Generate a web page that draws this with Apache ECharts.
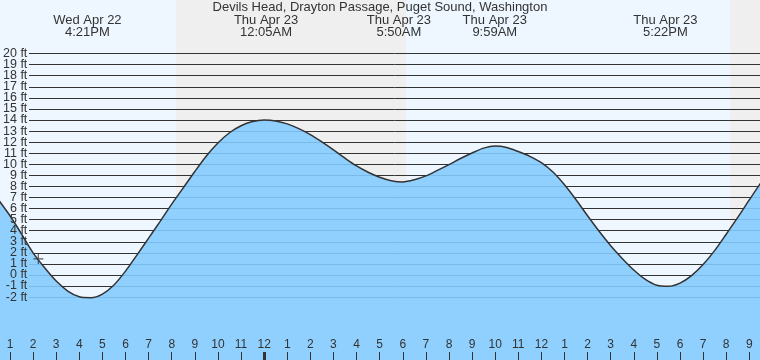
<!DOCTYPE html>
<html><head><meta charset="utf-8">
<script src="https://cdn.jsdelivr.net/npm/echarts@6/dist/echarts.min.js"></script>
<style>html,body{margin:0;padding:0;background:#eef7ff}#c{width:760px;height:360px}</style>
</head><body><div id="c"></div>
<script>
const titleText = "Devils Head, Drayton Passage, Puget Sound, Washington";
// tide curve: hours since Wed 00:00 (half-hour steps), height in ft
const tideHours = [12, 12.5, 13, 13.5, 14, 14.5, 15, 15.5, 16, 16.5, 17, 17.5, 18, 18.5, 19, 19.5, 20, 20.5, 21, 21.5, 22, 22.5, 23, 23.5, 24,
  24.5, 25, 25.5, 26, 26.5, 27, 27.5, 28, 28.5, 29, 29.5, 30, 30.5, 31, 31.5, 32, 32.5, 33, 33.5, 34, 34.5, 35, 35.5, 36,
  36.5, 37, 37.5, 38, 38.5, 39, 39.5, 40, 40.5, 41, 41.5, 42, 42.5, 43, 43.5, 44, 44.5, 45, 45.5, 46];
const tideFeet = [8.3, 6.8, 5.35, 3.7, 2.0, 0.65, -0.55, -1.45, -1.97, -2.05, -1.72, -0.9, 0.35, 1.82, 3.33, 4.85, 6.4, 7.87, 9.35, 10.75, 11.92, 12.85, 13.48, 13.86, 14.0,
  13.92, 13.65, 13.22, 12.68, 12.02, 11.3, 10.55, 9.85, 9.28, 8.83, 8.52, 8.41, 8.6, 8.95, 9.45, 9.97, 10.52, 11.02, 11.46, 11.65, 11.52, 11.15, 10.72, 10.15,
  9.3, 8.15, 6.8, 5.35, 3.95, 2.65, 1.5, 0.45, -0.4, -0.93, -1.02, -0.73, -0.05, 0.95, 2.2, 3.68, 5.2, 6.78, 8.33, 9.8];
const extremeHours = [16.35, 24.083, 29.833, 33.983, 41.367];
const extremeLabels = ["Wed Apr 22\n4:21PM", "Thu Apr 23\n12:05AM", "Thu Apr 23\n5:50AM", "Thu Apr 23\n9:59AM", "Thu Apr 23\n5:22PM"];
const hourTicks = [13,14,15,16,17,18,19,20,21,22,23,24,25,26,27,28,29,30,31,32,33,34,35,36,37,38,39,40,41,42,43,44,45];
const hourLabels = ["1","2","3","4","5","6","7","8","9","10","11","12","1","2","3","4","5","6","7","8","9","10","11","12","1","2","3","4","5","6","7","8","9"];
const midnightTicks = [24];
const footTicksEven = [-2,0,2,4,6,8,10,12,14,16,18,20];
const footTicksOdd = [-1,1,3,5,7,9,11,13,15,17,19];
const nightBands = [[20.186, 30.143], [44.169, 46.0]];
const nowMarker = [14.225, 1.45];
const viewStart = 12.567, viewEnd = 45.463;
const footMin = -2, footMax = 20;

const chart = echarts.init(document.getElementById('c'), null, {renderer: 'canvas'});
const txt = '#333';
const footLabelAxis = (ticks) => ({gridIndex: 2, type: 'value', min: footMin - 1, max: footMax + 1, interval: 1, z: 8, position: 'left', offset: 0,
  axisLine: {show: false}, axisTick: {show: false}, splitLine: {show: false},
  axisLabel: {show: true, margin: 2.5, color: txt, fontFamily: 'Liberation Sans, Arial', fontSize: 12.5,
    customValues: ticks, showMinLabel: true, showMaxLabel: true, hideOverlap: false,
    formatter: v => v + ' ft'}});
chart.setOption({
  animation: false,
  backgroundColor: '#eef7ff',
  title: {text: titleText, left: 'center', top: 1, padding: 0, z: 10,
    textStyle: {fontFamily: 'Liberation Sans, Arial', fontSize: 13, fontWeight: 'normal', color: txt}},
  grid: [
    {left: 0, right: 0, top: 0, bottom: 0},
    {left: 29, right: 0, top: 53.6, bottom: 62.9},
    {left: 29, right: 0, top: 42.53, bottom: 51.83}
  ],
  xAxis: [
    {gridIndex: 0, type: 'value', min: viewStart, max: viewEnd, position: 'bottom', z: 8,
      axisLine: {show: false, onZero: false}, splitLine: {show: false},
      axisTick: {show: true, inside: true, length: 8, customValues: hourTicks, lineStyle: {color: txt, width: 1}},
      axisLabel: {show: true, inside: true, margin: 9, customValues: hourTicks, color: txt,
        fontFamily: 'Liberation Sans, Arial', fontSize: 12,
        formatter: v => hourLabels[hourTicks.indexOf(Math.round(v))]}},
    {gridIndex: 0, type: 'value', min: viewStart, max: viewEnd, position: 'bottom', z: 9,
      axisLine: {show: false, onZero: false}, splitLine: {show: false},
      axisTick: {show: true, inside: true, length: 8, customValues: midnightTicks, lineStyle: {color: txt, width: 3}},
      axisLabel: {show: false}},
    {gridIndex: 0, type: 'value', min: viewStart, max: viewEnd, position: 'top', z: 8,
      axisLine: {show: false, onZero: false}, splitLine: {show: false}, axisTick: {show: false},
      axisLabel: {show: true, inside: true, margin: 14, customValues: extremeHours, color: txt,
        fontFamily: 'Liberation Sans, Arial', fontSize: 13, lineHeight: 12, align: 'center',
        formatter: v => { let i = 0, d = 1e9; extremeHours.forEach((h, k) => { if (Math.abs(h - v) < d) { d = Math.abs(h - v); i = k; } }); return extremeLabels[i]; }}},
    {gridIndex: 1, type: 'value', min: viewStart, max: viewEnd, show: false, axisLine: {onZero: false}},
    {gridIndex: 2, type: 'value', min: viewStart, max: viewEnd, show: false, axisLine: {onZero: false}}
  ],
  yAxis: [
    {gridIndex: 0, type: 'value', min: -7.678, max: 24.84, show: false},
    {gridIndex: 1, type: 'value', min: footMin, max: footMax, interval: 1, z: 3,
      axisLine: {show: false}, axisTick: {show: false}, axisLabel: {show: false},
      splitLine: {show: true, lineStyle: {color: '#333', width: 1}}},
    footLabelAxis(footTicksEven),
    footLabelAxis(footTicksOdd)
  ],
  series: [
    {type: 'line', xAxisIndex: 0, yAxisIndex: 0, z: 0, data: [[viewStart - 5, 0]], showSymbol: false,
      lineStyle: {opacity: 0}, silent: true,
      markArea: {silent: true, z: 0, itemStyle: {color: '#efefef'},
        data: nightBands.map(b => [{xAxis: b[0]}, {xAxis: b[1]}])}},
    {type: 'line', xAxisIndex: 0, yAxisIndex: 0, z: 5,
      data: tideHours.map((h, i) => [h, tideFeet[i]]),
      smooth: 0.3, showSymbol: false,
      lineStyle: {color: '#333', width: 1.5},
      areaStyle: {origin: 'start', color: 'rgba(131,203,255,0.89)', opacity: 1}},
    {type: 'scatter', xAxisIndex: 0, yAxisIndex: 0, z: 7, data: [nowMarker],
      symbol: 'path://M4.4,0H5.6V4.4H10V5.6H5.6V10H4.4V5.6H0V4.4H4.4Z', symbolSize: 10,
      itemStyle: {color: '#333'}}
  ]
});
</script></body></html>
